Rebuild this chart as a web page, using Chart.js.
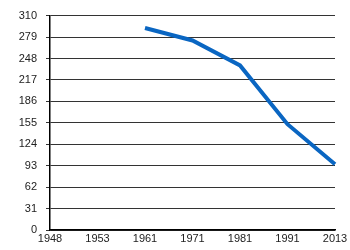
<!DOCTYPE html>
<html>
<head>
<meta charset="utf-8">
<script src="https://cdn.jsdelivr.net/npm/chart.js@4"></script>
<style>
  html, body { margin: 0; padding: 0; background: #fff; }
  #wrap { width: 350px; height: 250px; }
</style>
</head>
<body>
<div id="wrap"><canvas id="chart"></canvas></div>
<script>
var years = ['1948', '1953', '1961', '1971', '1981', '1991', '2013'];
var values = [null, null, 292, 274, 238, 153, 95];
var yTicks = [0, 31, 62, 93, 124, 155, 186, 217, 248, 279, 310];

var ctx = document.getElementById('chart').getContext('2d');

var myChart = new Chart(ctx, {
    type: 'line',
    data: {
        labels: years,
        datasets: [{
            data: values,
            borderColor: '#0a66c2',
            borderWidth: 4,
            pointRadius: 0,
            tension: 0,
            fill: false
        }]
    },
    options: {
        responsive: true,
        maintainAspectRatio: false,
        animation: false,
        layout: { padding: { top: 11, right: 15, bottom: 0, left: 0 } },
        plugins: { legend: { display: false }, tooltip: { enabled: false } },
        scales: {
            x: {
                offset: false,
                grid: { drawOnChartArea: false, drawTicks: false },
                border: { color: '#000', width: 1.5 },
                ticks: {
                    color: '#222',
                    padding: 2,
                    maxRotation: 0,
                    autoSkip: false,
                    font: { family: 'Liberation Sans', size: 11 }
                },
                afterFit: function (scale) { scale.height = 20; }
            },
            y: {
                min: 0,
                max: 310,
                afterBuildTicks: function (scale) {
                    scale.ticks = yTicks.map(function (v) { return { value: v }; });
                },
                grid: { color: '#333', lineWidth: 1, tickLength: 4 },
                border: { color: '#000', width: 1.5 },
                ticks: {
                    color: '#222',
                    padding: 9,
                    font: { family: 'Liberation Sans', size: 11 }
                },
                afterFit: function (scale) { scale.width = 50; }
            }
        }
    }
});
</script>
</body>
</html>
